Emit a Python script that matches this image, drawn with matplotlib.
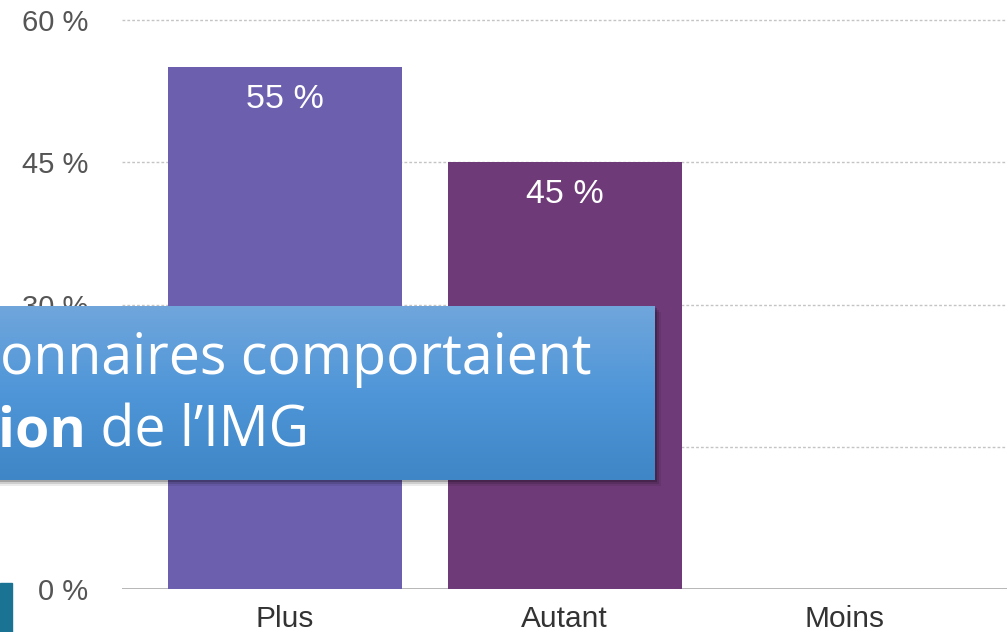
import numpy as np
import matplotlib
import matplotlib.pyplot as plt
from matplotlib.patches import Rectangle

matplotlib.use('Agg')

categories = ['Plus', 'Autant', 'Moins']
values = [55, 45, 0]
bar_colors = ['#6B5FAE', '#6E3A78', '#6E3A78']
y_ticks = [0, 15, 30, 45, 60]
y_tick_labels = ['0 %', '15 %', '30 %', '45 %', '60 %']
banner_line1 = 'onnaires comportaient'
banner_bold = 'ion'
banner_rest = ' de l\u2019IMG'

plt.rcParams['font.family'] = ['Liberation Sans', 'DejaVu Sans']

W, H = 1007, 632
fig = plt.figure(figsize=(W / 100, H / 100), dpi=100)
fig.patch.set_facecolor('white')

ax = fig.add_axes([122 / W, (H - 589) / H, 1 - 122 / W, (589 - 20) / H])
x = np.arange(len(categories))
ax.bar(x, values, width=0.836, color=bar_colors, zorder=2)
for xi, v in zip(x, values):
    if v > 0:
        ax.text(xi, v - 3.4, f'{v} %', ha='center', va='center',
                color='white', fontsize=24.5, zorder=3)

ax.set_xlim(-0.582, 2.58)
ax.set_ylim(0, 60)
ax.set_yticks(y_ticks)
ax.set_yticklabels(y_tick_labels)
ax.set_xticks(x)
ax.set_xticklabels(categories)
ax.tick_params(axis='y', length=0, pad=24.5, labelsize=21, labelcolor='#555555')
ax.tick_params(axis='x', length=0, pad=11.5, labelsize=21.5, labelcolor='#333333')
for t in y_ticks[1:]:
    ax.axhline(t, color='#c4c4c4', linestyle=(0, (2, 1.5)), linewidth=1, zorder=1,
               clip_on=False)
ax.axhline(0, color='#aaaaaa', linewidth=1.2, zorder=1)
for s in ax.spines.values():
    s.set_visible(False)

# blue banner over the chart, with a soft shadow
for off, a in [(6, 0.08), (4, 0.12), (2, 0.2)]:
    fig.patches.append(Rectangle((0, (H - 480 - off) / H), (655 + off) / W, 174 / H,
                                 transform=fig.transFigure, color='black',
                                 alpha=a, lw=0, zorder=5))
bx = fig.add_axes([0, (H - 480) / H, 655 / W, 174 / H], zorder=6)
grad = np.linspace(0, 1, 256).reshape(-1, 1)
cmap = matplotlib.colors.LinearSegmentedColormap.from_list('b', ['#70A6DC', '#4F96D8', '#3F86C7'])
bx.imshow(grad, aspect='auto', cmap=cmap, extent=[0, 1, 0, 1], origin='upper')
bx.set_axis_off()
bx.set_xlim(0, 1)
bx.set_ylim(0, 1)
tfont = ['Open Sans', 'DejaVu Sans']
fs = 40
bx.text(0.0, 0.61, banner_line1, color='white', fontsize=fs, family=tfont,
        va='baseline', ha='left')
t2 = bx.text(-0.003, 0.19, banner_bold, color='white', fontsize=fs, family=tfont,
             fontweight='bold', va='baseline', ha='left')
fig.canvas.draw()
bb = t2.get_window_extent().transformed(bx.transData.inverted())
bx.text(bb.x1, 0.19, banner_rest, color='white', fontsize=fs, family=tfont,
        va='baseline', ha='left')

# small teal square bottom left
fig.patches.append(Rectangle((0, 0), 12 / W, 49 / H, transform=fig.transFigure,
                             color='#1B7394', zorder=7))

fig.savefig('out.png', dpi=100)
